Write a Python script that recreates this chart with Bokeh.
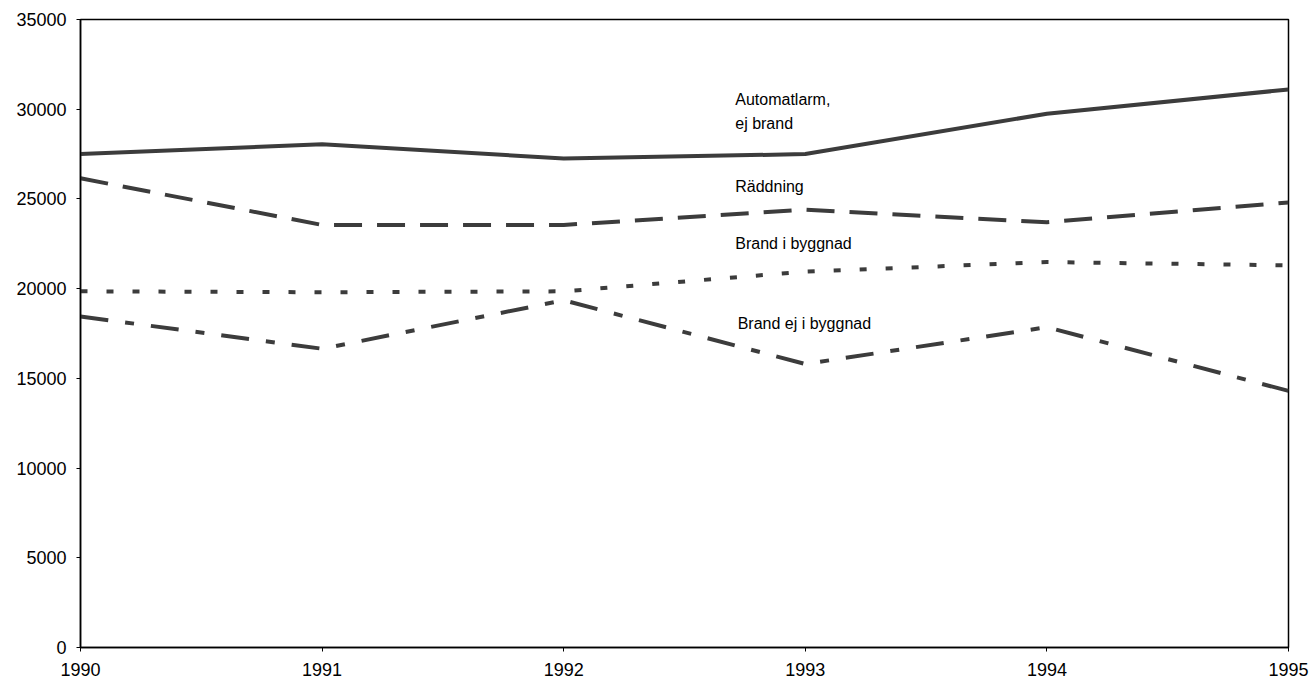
from bokeh.plotting import figure
from bokeh.models import FixedTicker, Range1d, ColumnDataSource, CustomJSTickFormatter
from bokeh.core.properties import value
from bokeh.embed import file_html
from bokeh.resources import INLINE

years = [1990, 1991, 1992, 1993, 1994, 1995]
automatlarm = [27500, 28050, 27250, 27500, 29750, 31100]
raddning = [26150, 23550, 23550, 24400, 23700, 24800]
brand_i_byggnad = [19850, 19800, 19850, 20950, 21480, 21300]
brand_ej_i_byggnad = [18450, 16650, 19350, 15800, 17850, 14300]

label_texts = ["Automatlarm,", "ej brand", "Räddning", "Brand i byggnad", "Brand ej i byggnad"]
label_x = [1992.71, 1992.71, 1992.71, 1992.71, 1992.72]
label_y = [30550, 29220, 25670, 22500, 18050]

y_ticks = [0, 5000, 10000, 15000, 20000, 25000, 30000, 35000]

p = figure(frame_width=1208, frame_height=628, output_backend="svg",
           toolbar_location=None, min_border_left=80, min_border_right=22,
           min_border_top=19, min_border_bottom=10)
p.x_range = Range1d(1990, 1995)
p.y_range = Range1d(0, 35000)
p.xgrid.visible = False
p.ygrid.visible = False
p.outline_line_color = "black"
p.outline_line_width = 1.5

col = "#3c3c3c"
p.line(years, automatlarm, line_color=col, line_width=4)
p.line(years, raddning, line_color=col, line_width=4, line_dash="28 15")
p.line(years, brand_i_byggnad, line_color=col, line_width=4, line_dash="7 19")
p.line(years, brand_ej_i_byggnad, line_color=col, line_width=4, line_dash="28 17 9 17")

src = ColumnDataSource(dict(x=label_x, y=label_y, t=label_texts))
p.text(x="x", y="y", text="t", source=src, text_font=value("Liberation Sans"),
       text_font_size="16px", text_baseline="middle", text_align="left",
       text_color="black")

for ax in (p.xaxis[0], p.yaxis[0]):
    ax.axis_line_color = "black"
    ax.axis_line_width = 1.5
    ax.major_tick_line_color = "black"
    ax.major_tick_out = 4
    ax.major_tick_in = 0
    ax.minor_tick_line_color = None
    ax.major_label_text_font = "Liberation Sans"
    ax.major_label_text_font_size = "18px"
    ax.major_label_text_color = "black"

p.xaxis[0].ticker = FixedTicker(ticks=years)
p.xaxis[0].major_label_standoff = 11
p.yaxis[0].ticker = FixedTicker(ticks=y_ticks)
p.yaxis[0].major_label_standoff = 10
p.yaxis[0].formatter = CustomJSTickFormatter(code="return tick.toFixed(0);")
p.xaxis[0].formatter = CustomJSTickFormatter(code="return tick.toFixed(0);")

open("out.html", "w").write(file_html(p, INLINE))
